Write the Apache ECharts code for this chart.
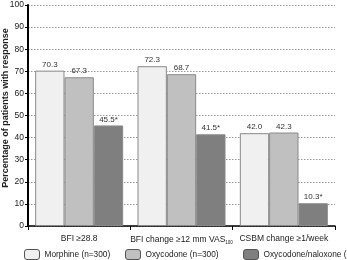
<!DOCTYPE html>
<html>
<head>
<meta charset="utf-8">
<script src="https://cdn.jsdelivr.net/npm/echarts@6/dist/echarts.min.js"></script>
<style>
  html, body { margin: 0; padding: 0; background: #fff; }
  #chart { width: 347px; height: 260px; }
</style>
</head>
<body>
<div id="chart"></div>
<script>
var categories = ['BFI ≥28.8', 'BFI change ≥12 mm VAS', 'CSBM change ≥1/week']
var morphine = [70.3, 72.3, 42.0]
var oxycodone = [67.3, 68.7, 42.3]
var naloxone = [45.5, 41.5, 10.3]
var naloxoneLabels = ['45.5*', '41.5*', '10.3*']
var seriesNames = ['Morphine (n=300)', 'Oxycodone (n=300)', 'Oxycodone/naloxone (n=300)']
var yTicks = [0, 10, 20, 30, 40, 50, 60, 70, 80, 90, 100]

var chart = echarts.init(document.getElementById('chart'))

function bar(name, data, color, labels) {
  return {
    name: name,
    type: 'bar',
    data: data,
    barGap: '0%',
    barCategoryGap: '14%',
    itemStyle: { color: color, borderColor: '#8a8a8a', borderWidth: 1 },
    label: {
      show: true,
      position: 'top',
      distance: 2,
      fontSize: 8,
      color: '#333',
      formatter: function (p) {
        return labels ? labels[p.dataIndex] : p.value.toFixed(1)
      }
    }
  }
}

// one legend per series so each box sits where the original has it
function legend(name, left) {
  return {
    data: [name],
    left: left,
    top: 249,
    padding: 0,
    width: 400,
    itemWidth: 15,
    itemHeight: 10,
    itemGap: 0,
    textStyle: { fontSize: 8.3, color: '#222' },
    itemStyle: { borderColor: '#555', borderWidth: 1 }
  }
}

chart.setOption({
  animation: false,
  textStyle: { fontFamily: 'Liberation Sans, Arial, sans-serif' },
  grid: { left: 28, right: 12, top: 5, bottom: 34, outerBoundsMode: 'none', containLabel: false },
  legend: [
    legend(seriesNames[0], 24),
    legend(seriesNames[1], 125),
    legend(seriesNames[2], 243)
  ],
  xAxis: {
    type: 'category',
    data: categories,
    axisLine: { lineStyle: { color: '#000', width: 1.5 } },
    axisTick: { show: true, length: 4, lineStyle: { color: '#000' } },
    axisLabel: {
      interval: 0,
      fontSize: 8.5,
      color: '#222',
      margin: 8,
      formatter: function (v) {
        return v.indexOf('VAS') >= 0 ? v + '{sub|100}' : v
      },
      rich: { sub: { fontSize: 4.5, verticalAlign: 'bottom', padding: [6, 0, 0, 0], color: '#222' } }
    }
  },
  yAxis: {
    type: 'value',
    min: 0,
    max: 100,
    interval: 10,
    name: 'Percentage of patients with response',
    nameLocation: 'middle',
    nameGap: 18,
    nameMoveOverlap: false,
    nameTextStyle: { fontSize: 9, fontWeight: 'bold', color: '#222', padding: [0, 0, 0, 15] },
    axisLine: { show: true, lineStyle: { color: '#000', width: 2 } },
    axisTick: { show: true, length: 3, lineStyle: { color: '#000' } },
    axisLabel: {
      fontSize: 8.5,
      color: '#222',
      margin: 4,
      formatter: function (v) { return yTicks.indexOf(v) >= 0 ? v : '' }
    },
    splitLine: { lineStyle: { type: [1.5, 1.5], color: '#999', width: 1 } }
  },
  series: [
    bar(seriesNames[0], morphine, '#f0f0f0'),
    bar(seriesNames[1], oxycodone, '#c0c0c0'),
    bar(seriesNames[2], naloxone, '#7f7f7f', naloxoneLabels)
  ]
})
</script>
</body>
</html>
